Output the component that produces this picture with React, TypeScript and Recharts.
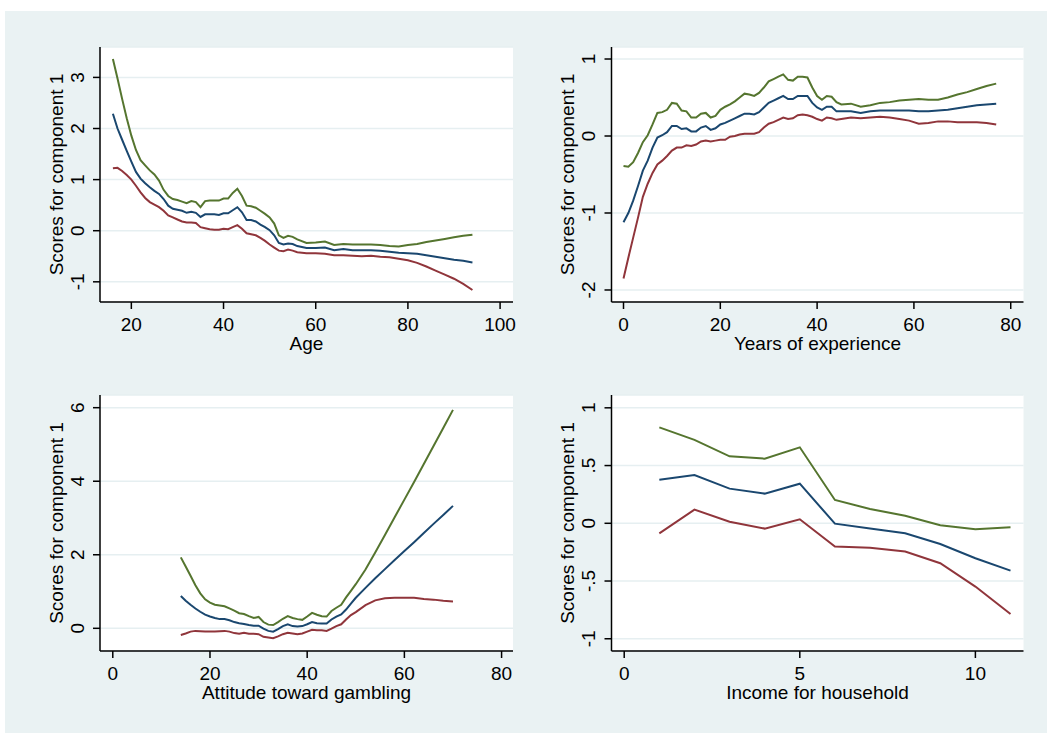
import React from 'react';
import { LineChart, Line, XAxis, YAxis, CartesianGrid } from 'recharts';

// Age panel
const ageX = [16, 17, 18, 19, 20, 21, 22, 23, 24, 25, 26, 27, 28, 29, 30, 31, 32, 33, 34, 35, 36, 37, 38, 39, 40, 41, 42, 43, 44, 45, 46, 47, 48, 49, 50, 51, 52, 53, 54, 55, 56, 58, 60, 62, 64, 66, 68, 70, 72, 74, 76, 78, 80, 82, 84, 86, 88, 90, 92, 94];
const ageUp = [3.36, 2.98, 2.58, 2.2, 1.86, 1.58, 1.38, 1.28, 1.18, 1.1, 0.98, 0.8, 0.68, 0.62, 0.6, 0.57, 0.54, 0.58, 0.56, 0.46, 0.58, 0.59, 0.59, 0.59, 0.63, 0.63, 0.74, 0.82, 0.68, 0.49, 0.48, 0.45, 0.39, 0.33, 0.26, 0.14, -0.09, -0.14, -0.1, -0.12, -0.17, -0.24, -0.23, -0.21, -0.28, -0.26, -0.27, -0.27, -0.27, -0.28, -0.3, -0.31, -0.28, -0.26, -0.22, -0.19, -0.16, -0.13, -0.1, -0.08];
const ageFit = [2.29, 2.0, 1.78, 1.56, 1.35, 1.15, 1.02, 0.93, 0.85, 0.78, 0.72, 0.62, 0.49, 0.43, 0.41, 0.39, 0.35, 0.37, 0.35, 0.27, 0.32, 0.32, 0.32, 0.31, 0.34, 0.34, 0.4, 0.46, 0.36, 0.21, 0.21, 0.18, 0.12, 0.07, 0.01, -0.09, -0.24, -0.27, -0.25, -0.26, -0.3, -0.34, -0.34, -0.33, -0.38, -0.36, -0.38, -0.38, -0.38, -0.39, -0.41, -0.43, -0.44, -0.45, -0.48, -0.51, -0.54, -0.57, -0.59, -0.62];
const ageLo = [1.22, 1.23, 1.17, 1.09, 1.0, 0.88, 0.75, 0.64, 0.56, 0.51, 0.46, 0.39, 0.3, 0.26, 0.22, 0.18, 0.16, 0.16, 0.15, 0.07, 0.05, 0.03, 0.02, 0.02, 0.04, 0.03, 0.07, 0.11, 0.04, -0.05, -0.07, -0.09, -0.14, -0.2, -0.27, -0.33, -0.39, -0.4, -0.37, -0.39, -0.42, -0.44, -0.44, -0.45, -0.48, -0.48, -0.49, -0.5, -0.49, -0.51, -0.52, -0.55, -0.58, -0.63, -0.7, -0.78, -0.86, -0.94, -1.04, -1.16];

// Years of experience panel
const expX = [0, 1, 2, 3, 4, 5, 6, 7, 8, 9, 10, 11, 12, 13, 14, 15, 16, 17, 18, 19, 20, 21, 22, 23, 24, 25, 26, 27, 28, 29, 30, 31, 32, 33, 34, 35, 36, 37, 38, 39, 40, 41, 42, 43, 44, 45, 47, 49, 51, 53, 55, 57, 59, 61, 63, 65, 67, 69, 71, 73, 75, 77];
const expUp = [-0.39, -0.4, -0.34, -0.22, -0.08, 0.01, 0.15, 0.3, 0.31, 0.34, 0.43, 0.42, 0.33, 0.32, 0.24, 0.24, 0.29, 0.3, 0.24, 0.26, 0.34, 0.38, 0.41, 0.45, 0.5, 0.55, 0.54, 0.52, 0.56, 0.63, 0.71, 0.74, 0.77, 0.8, 0.73, 0.72, 0.77, 0.77, 0.76, 0.63, 0.52, 0.47, 0.52, 0.51, 0.44, 0.41, 0.42, 0.38, 0.4, 0.43, 0.44, 0.46, 0.47, 0.48, 0.47, 0.47, 0.5, 0.54, 0.57, 0.61, 0.65, 0.68];
const expFit = [-1.12, -1.0, -0.84, -0.65, -0.45, -0.32, -0.15, -0.02, 0.01, 0.05, 0.13, 0.13, 0.09, 0.1, 0.06, 0.06, 0.11, 0.13, 0.08, 0.1, 0.15, 0.17, 0.2, 0.23, 0.26, 0.29, 0.29, 0.28, 0.31, 0.37, 0.43, 0.46, 0.49, 0.52, 0.48, 0.48, 0.52, 0.52, 0.52, 0.43, 0.37, 0.34, 0.38, 0.38, 0.32, 0.32, 0.32, 0.3, 0.32, 0.33, 0.33, 0.33, 0.33, 0.32, 0.32, 0.33, 0.34, 0.36, 0.38, 0.4, 0.41, 0.42];
const expLo = [-1.85, -1.58, -1.32, -1.06, -0.79, -0.62, -0.48, -0.37, -0.32, -0.26, -0.19, -0.15, -0.15, -0.12, -0.13, -0.11, -0.07, -0.06, -0.07, -0.06, -0.05, -0.05, -0.01, 0.0, 0.02, 0.03, 0.03, 0.03, 0.05, 0.11, 0.16, 0.18, 0.21, 0.24, 0.22, 0.23, 0.27, 0.28, 0.27, 0.25, 0.22, 0.2, 0.24, 0.23, 0.21, 0.22, 0.24, 0.23, 0.24, 0.25, 0.24, 0.22, 0.2, 0.16, 0.17, 0.19, 0.19, 0.18, 0.18, 0.18, 0.17, 0.15];

// Attitude toward gambling panel
const attX = [14, 15, 16, 17, 18, 19, 20, 21, 22, 23, 24, 25, 26, 27, 28, 29, 30, 31, 32, 33, 34, 35, 36, 37, 38, 39, 40, 41, 42, 43, 44, 45, 46, 47, 48, 49, 50, 52, 54, 56, 58, 60, 62, 64, 66, 68, 70];
const attUp = [1.93, 1.68, 1.43, 1.17, 0.95, 0.79, 0.7, 0.64, 0.62, 0.6, 0.54, 0.48, 0.41, 0.39, 0.33, 0.28, 0.31, 0.17, 0.1, 0.09, 0.17, 0.26, 0.33, 0.28, 0.25, 0.23, 0.32, 0.42, 0.37, 0.33, 0.32, 0.47, 0.56, 0.64, 0.84, 1.02, 1.2, 1.6, 2.06, 2.54, 3.02, 3.5, 3.98, 4.47, 4.96, 5.45, 5.94];
const attFit = [0.88, 0.75, 0.64, 0.54, 0.45, 0.37, 0.32, 0.28, 0.25, 0.25, 0.22, 0.17, 0.14, 0.12, 0.09, 0.07, 0.07, -0.01, -0.07, -0.09, -0.02, 0.06, 0.11, 0.06, 0.05, 0.06, 0.11, 0.17, 0.14, 0.13, 0.13, 0.24, 0.32, 0.38, 0.51, 0.67, 0.83, 1.1, 1.36, 1.61, 1.86, 2.1, 2.34, 2.59, 2.84, 3.08, 3.33];
const attLo = [-0.18, -0.14, -0.09, -0.07, -0.08, -0.09, -0.09, -0.09, -0.08, -0.07, -0.09, -0.13, -0.15, -0.12, -0.15, -0.15, -0.16, -0.23, -0.25, -0.27, -0.22, -0.16, -0.12, -0.14, -0.16, -0.14, -0.09, -0.04, -0.05, -0.05, -0.07, -0.01, 0.06, 0.11, 0.24, 0.36, 0.44, 0.63, 0.76, 0.82, 0.83, 0.83, 0.83, 0.8, 0.78, 0.75, 0.73];

// Income for household panel
const incX = [1, 2, 3, 4, 5, 6, 7, 8, 9, 10, 11];
const incUp = [0.831, 0.722, 0.58, 0.56, 0.658, 0.202, 0.124, 0.066, -0.017, -0.052, -0.035];
const incFit = [0.378, 0.418, 0.3, 0.257, 0.343, -0.003, -0.046, -0.087, -0.179, -0.303, -0.41];
const incLo = [-0.087, 0.118, 0.014, -0.046, 0.035, -0.202, -0.211, -0.245, -0.346, -0.548, -0.785];

const FONT = '"Liberation Sans", Arial, Helvetica, sans-serif';
const FS = 19;
const C_UP = '#55752F';
const C_FIT = '#1A476F';
const C_LO = '#90353B';

const rows = (xs: number[], up: number[], fit: number[], lo: number[]) =>
  xs.map((x, i) => ({ x, up: up[i], fit: fit[i], lo: lo[i] }));

const stataNum = (v: number) => {
  if (v === 0.5) return '.5';
  if (v === -0.5) return '-.5';
  return String(v);
};

const XTick = (p: any) => (
  <text x={p.x} y={p.y + 22} textAnchor="middle" fontSize={FS} fontFamily={FONT} fill="#000">
    {stataNum(p.payload.value)}
  </text>
);

const YTick = (p: any) => {
  const x = p.x - 9;
  return (
    <text
      x={x}
      y={p.y}
      transform={`rotate(-90, ${x}, ${p.y})`}
      textAnchor="middle"
      fontSize={FS}
      fontFamily={FONT}
      fill="#000"
    >
      {stataNum(p.payload.value)}
    </text>
  );
};

const axisStyle = { stroke: '#000', strokeWidth: 1.5 };

function Panel(props: any) {
  const { left, top, width, height, right, plotTop, yWidth, xHeight, data, xDomain, xTicks, yDomain, yTicks } = props;
  return (
    <div style={{ position: 'absolute', left, top }}>
      <LineChart width={width} height={height} data={data} margin={{ top: plotTop, right, bottom: 0, left: 0 }}>
        <CartesianGrid vertical={false} fill="#fff" stroke="#E6EFF1" strokeWidth={1.5} />
        <XAxis
          type="number"
          dataKey="x"
          domain={xDomain}
          ticks={xTicks}
          interval={0}
          allowDataOverflow
          height={xHeight}
          tickSize={7}
          tickMargin={0}
          axisLine={axisStyle}
          tickLine={axisStyle}
          tick={XTick}
        />
        <YAxis
          type="number"
          domain={yDomain}
          ticks={yTicks}
          interval={0}
          allowDataOverflow
          width={yWidth}
          tickSize={7}
          tickMargin={0}
          axisLine={axisStyle}
          tickLine={axisStyle}
          tick={YTick}
        />
        <Line type="linear" dataKey="up" stroke={C_UP} strokeWidth={2} dot={false} isAnimationActive={false} />
        <Line type="linear" dataKey="fit" stroke={C_FIT} strokeWidth={2} dot={false} isAnimationActive={false} />
        <Line type="linear" dataKey="lo" stroke={C_LO} strokeWidth={2} dot={false} isAnimationActive={false} />
      </LineChart>
    </div>
  );
}

const yTitle = 'Scores for component 1';

export default function App() {
  return (
    <div style={{ position: 'absolute', left: 0, top: 0, width: 1047, height: 733, background: '#fff', overflow: 'hidden' }}>
      <div style={{ position: 'absolute', left: 5, top: 11, right: 0, bottom: 0, background: '#EAF2F3' }} />
      <Panel
        left={0} top={0} width={520} height={370} right={7} plotTop={47} yWidth={100} xHeight={68}
        data={rows(ageX, ageUp, ageFit, ageLo)}
        xDomain={[13.2, 102.8]} xTicks={[20, 40, 60, 80, 100]}
        yDomain={[-1.395, 3.595]} yTicks={[-1, 0, 1, 2, 3]}
      />
      <Panel
        left={520} top={0} width={527} height={370} right={23.5} plotTop={47} yWidth={91.5} xHeight={68}
        data={rows(expX, expUp, expFit, expLo)}
        xDomain={[-2.48, 82.64]} xTicks={[0, 20, 40, 60, 80]}
        yDomain={[-2.156, 1.156]} yTicks={[-2, -1, 0, 1]}
      />
      <Panel
        left={0} top={370} width={520} height={363} right={7} plotTop={25} yWidth={100} xHeight={82}
        data={rows(attX, attUp, attFit, attLo)}
        xDomain={[-2.63, 82.35]} xTicks={[0, 20, 40, 60, 80]}
        yDomain={[-0.617, 6.345]} yTicks={[0, 2, 4, 6]}
      />
      <Panel
        left={520} top={370} width={527} height={363} right={23.5} plotTop={25} yWidth={91.5} xHeight={82}
        data={rows(incX, incUp, incFit, incLo)}
        xDomain={[-0.362, 11.37]} xTicks={[0, 5, 10]}
        yDomain={[-1.106, 1.111]} yTicks={[-1, -0.5, 0, 0.5, 1]}
      />
      <svg width={1047} height={733} style={{ position: 'absolute', left: 0, top: 0, pointerEvents: 'none' }}>
        <g fontFamily={FONT} fontSize={FS} fill="#000" textAnchor="middle">
          <text x={306.5} y={350}>Age</text>
          <text x={817.5} y={350}>Years of experience</text>
          <text x={306.5} y={699}>Attitude toward gambling</text>
          <text x={817.5} y={699}>Income for household</text>
          <text x={62.5} y={174.5} transform="rotate(-90, 62.5, 174.5)">{yTitle}</text>
          <text x={573.8} y={174.5} transform="rotate(-90, 573.8, 174.5)">{yTitle}</text>
          <text x={62.5} y={523} transform="rotate(-90, 62.5, 523)">{yTitle}</text>
          <text x={573.8} y={523} transform="rotate(-90, 573.8, 523)">{yTitle}</text>
        </g>
      </svg>
    </div>
  );
}
